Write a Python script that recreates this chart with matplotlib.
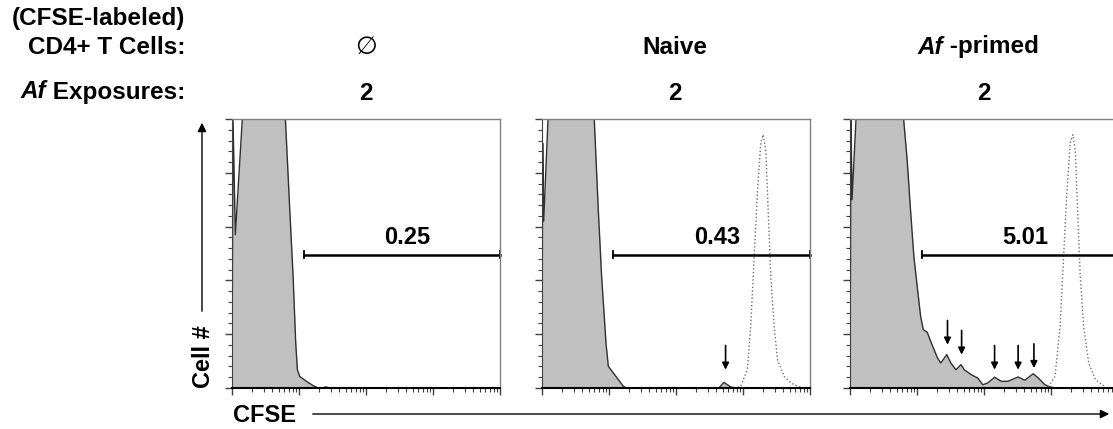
import numpy as np
import matplotlib
matplotlib.use("Agg")
import matplotlib.pyplot as plt
from matplotlib.patches import FancyArrowPatch

plt.rcParams["font.family"] = ["Liberation Sans", "DejaVu Sans"]

# CFSE intensity in log10 decades, cell count as fraction of the y range
gray1_x = [0.0, 0.015, 0.05, 0.154, 0.797, 0.862, 0.912, 0.951, 0.976, 1.011,
           1.11, 1.21, 1.285, 1.34, 1.40, 1.46, 4.0]
gray1_y = [0.0, 1.0, 0.57, 1.0, 1.0, 0.663, 0.415, 0.167, 0.068, 0.043,
           0.025, 0.009, 0.0, 0.0, 0.004, 0.0, 0.0]

gray2_x = [0.0, 0.01, 0.025, 0.09, 0.78, 0.84, 0.89, 0.955, 0.99, 1.065,
           1.14, 1.215, 1.265, 2.64, 2.715, 2.815, 2.9, 4.0]
gray2_y = [0.0, 0.91, 0.62, 1.0, 1.0, 0.663, 0.415, 0.167, 0.081, 0.056,
           0.031, 0.006, 0.0, 0.0, 0.021, 0.004, 0.0, 0.0]

gray3_x = [0.0, 0.015, 0.03, 0.09, 0.80, 0.853, 0.903, 0.953, 1.003, 1.054,
           1.094, 1.154, 1.194, 1.254, 1.305, 1.355, 1.445, 1.505, 1.581,
           1.656, 1.706, 1.806, 1.907, 1.982, 2.057, 2.158, 2.258, 2.358,
           2.509, 2.609, 2.735, 2.810, 2.910, 2.986, 3.061, 4.0]
gray3_y = [0.0, 1.0, 0.70, 1.0, 1.0, 0.849, 0.663, 0.489, 0.378, 0.266,
           0.217, 0.207, 0.180, 0.143, 0.112, 0.093, 0.124, 0.093, 0.068,
           0.087, 0.068, 0.050, 0.037, 0.012, 0.019, 0.040, 0.025, 0.025,
           0.041, 0.029, 0.053, 0.037, 0.012, 0.004, 0.0, 0.0]

dot2_x = [2.865, 2.965, 3.065, 3.115, 3.165, 3.215, 3.265, 3.30, 3.34, 3.375,
          3.415, 3.465, 3.515, 3.615, 3.715, 3.815, 3.915]
dot2_y = [0.0, 0.006, 0.068, 0.229, 0.477, 0.725, 0.911, 0.942, 0.886, 0.663,
          0.415, 0.229, 0.105, 0.043, 0.019, 0.006, 0.0]

dot3_x = [2.96, 3.06, 3.136, 3.186, 3.236, 3.287, 3.327, 3.362, 3.397, 3.437,
          3.487, 3.563, 3.663, 3.813]
dot3_y = [0.004, 0.043, 0.229, 0.477, 0.725, 0.911, 0.942, 0.886, 0.663, 0.415,
          0.229, 0.093, 0.031, 0.004]

arrows2_x = [2.74]
arrows2_y = [0.068]
arrows3_x = [1.455, 1.666, 2.158, 2.509, 2.745]
arrows3_y = [0.161, 0.124, 0.068, 0.068, 0.074]

gate_start = [1.07, 1.055, 1.07]
gate_pct = ["0.25", "0.43", "5.01"]
cell_labels = ["\u2205", "Naive", "Af -primed"]
exposures = ["2", "2", "2"]

panels = [
    (gray1_x, gray1_y, None, None, [], []),
    (gray2_x, gray2_y, dot2_x, dot2_y, arrows2_x, arrows2_y),
    (gray3_x, gray3_y, dot3_x, dot3_y, arrows3_x, arrows3_y),
]

FS = 17.5
fig = plt.figure(figsize=(11.13, 4.29), dpi=100)
W, H = 1113, 429
lefts = [232, 542, 850]
pw, top, bot = 268, 119, 388

for i, (gx, gy, dx, dy, ax_x, ax_y) in enumerate(panels):
    ax = fig.add_axes([lefts[i] / W, 1 - bot / H, pw / W, (bot - top) / H])
    ax.set_xscale("log")
    ax.set_xlim(1, 1e4)
    ax.set_ylim(0, 1)
    gxv = 10 ** np.array(gx)
    ax.fill_between(gxv, gy, color="#c0c0c0", lw=0)
    ax.plot(gxv, gy, color="#303030", lw=1.0)
    if dx is not None:
        ax.plot(10 ** np.array(dx), dy, color="#707070", ls=":", lw=1.0)
    for xa, ya in zip(ax_x, ax_y):
        ax.annotate("", xy=(10 ** xa, ya), xytext=(10 ** xa, ya + 0.09),
                    arrowprops=dict(arrowstyle="-|>", color="black", lw=1.2,
                                    mutation_scale=10, shrinkA=0, shrinkB=0))
    # gate bar
    g0 = 10 ** gate_start[i]
    ax.plot([g0, 1e4], [0.496, 0.496], color="black", lw=1.8, clip_on=False)
    for gxe in (g0, 1e4):
        ax.plot([gxe, gxe], [0.482, 0.51], color="black", lw=1.3, clip_on=False)
    ax.text(10 ** 2.61, 0.515, gate_pct[i], ha="center", va="bottom",
            fontsize=17, fontweight="bold")

    ax.set_yticks(np.linspace(0, 1, 6))
    ax.set_yticks(np.linspace(0, 1, 26), minor=True)
    ax.tick_params(which="both", labelleft=False, labelbottom=False,
                   direction="out", color="#404040")
    ax.tick_params(which="major", length=5, width=1)
    ax.tick_params(which="minor", length=3, width=0.8)
    for s in ("top", "right"):
        ax.spines[s].set_color("#808080")
        ax.spines[s].set_linewidth(1.0)
    ax.spines["left"].set_color("#404040")
    ax.spines["bottom"].set_color("black")
    ax.spines["bottom"].set_linewidth(1.5)

# header texts
fig.text(185 / W, 1 - 18 / H, "(CFSE-labeled)", ha="right", va="center",
         fontsize=FS, fontweight="bold")
fig.text(185 / W, 1 - 47 / H, "CD4+ T Cells:", ha="right", va="center",
         fontsize=FS, fontweight="bold")
t_exp = fig.text(185 / W, 1 - 92 / H, " Exposures:", ha="right", va="center",
                 fontsize=FS, fontweight="bold")

centers = [366, 675, 978]
fig.text(centers[0] / W, 1 - 47 / H, cell_labels[0], ha="center",
         va="center", fontsize=18, family="DejaVu Sans")
fig.text(centers[1] / W, 1 - 47 / H, cell_labels[1], ha="center",
         va="center", fontsize=FS, fontweight="bold")
for i, c in enumerate([366, 675, 984]):
    fig.text(c / W, 1 - 94 / H, exposures[i], ha="center", va="center",
             fontsize=FS, fontweight="bold")

fig.canvas.draw()
r = fig.canvas.get_renderer()
bb = t_exp.get_window_extent(r)
fig.text(bb.x0 / W, 1 - 92 / H, "Af", ha="right", va="center",
         fontsize=FS, fontweight="bold", style="italic")

# "Af -primed" with italic prefix
t_af = fig.text(0, 1 - 47 / H, "Af", ha="left", va="center",
                fontsize=FS, fontweight="bold", style="italic")
t_pr = fig.text(0, 1 - 47 / H, " -primed", ha="left", va="center",
                fontsize=FS, fontweight="bold")
w_af = t_af.get_window_extent(r).width
w_pr = t_pr.get_window_extent(r).width
x0 = centers[2] - (w_af + w_pr) / 2
t_af.set_x(x0 / W)
t_pr.set_x((x0 + w_af) / W)

# axis labels with arrows
fig.text(204 / W, 1 - 357 / H, "Cell #", rotation=90, ha="center",
         va="center", fontsize=17, fontweight="bold")
fig.add_artist(FancyArrowPatch(
    (202 / W, 1 - 314 / H), (202 / W, 1 - 120 / H),
    transform=fig.transFigure, arrowstyle="-|>", mutation_scale=13,
    color="black", lw=1.0))
fig.text(233 / W, 1 - 416 / H, "CFSE", ha="left", va="center",
         fontsize=17, fontweight="bold")
fig.add_artist(FancyArrowPatch(
    (310 / W, 1 - 414 / H), (1112 / W, 1 - 414 / H),
    transform=fig.transFigure, arrowstyle="-|>", mutation_scale=13,
    color="black", lw=1.0))

fig.savefig("out.png", dpi=100)
